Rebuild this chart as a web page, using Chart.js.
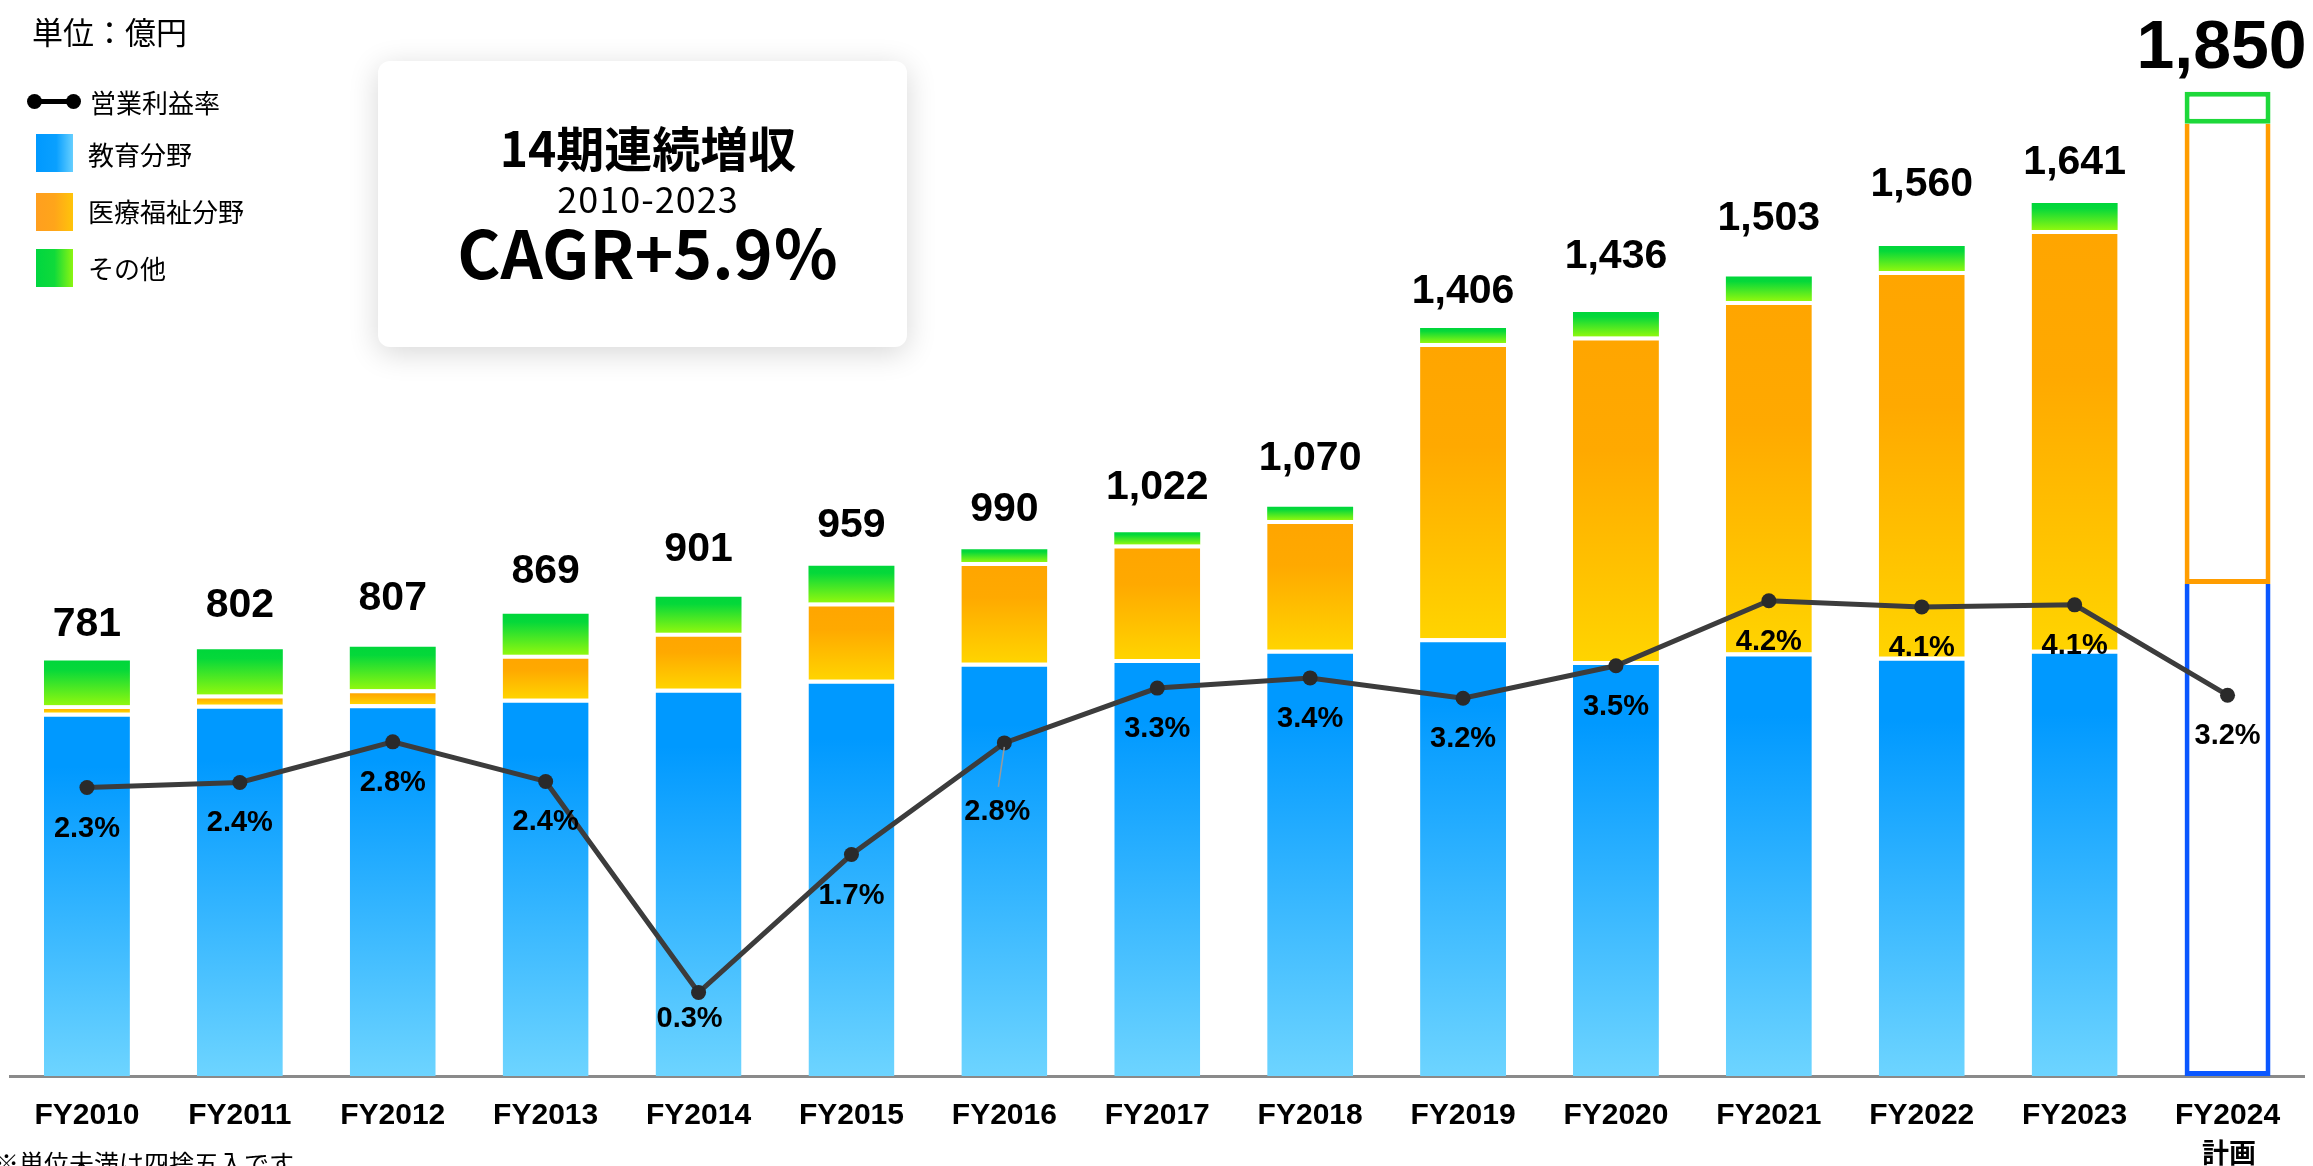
<!DOCTYPE html>
<html lang="ja">
<head>
<meta charset="utf-8">
<title>売上高推移</title>
<script src="https://cdn.jsdelivr.net/npm/chart.js@4.4.1/dist/chart.umd.min.js"></script>
<style>
  html, body { margin: 0; padding: 0; background: #fff; }
  body { width: 2313px; height: 1166px; position: relative; overflow: hidden;
         font-family: "Noto Sans CJK JP", sans-serif; color: #000; }
  #chart { position: absolute; left: 0; top: 0; }
  .txt { position: absolute; white-space: nowrap; }
  .unit { left: 32px; top: 15px; font-size: 31px; line-height: 31px; }
  .lg { left: 88px; font-size: 26px; line-height: 26px; }
  .sw { position: absolute; left: 36px; width: 37px; height: 38px; }
  .sw.edu { top: 134px; background: linear-gradient(to right, #0099ff 0%, #0aa0ff 55%, #66cfff 100%); }
  .sw.med { top: 193px; background: linear-gradient(to right, #ff9f1f 0%, #ffa51a 50%, #ffc40a 100%); }
  .sw.oth { top: 249px; background: linear-gradient(to right, #00d640 0%, #10da3a 50%, #8cf511 100%); }
  .lg-line { position: absolute; left: 34px; top: 99px; width: 39px; height: 5px; background: #000; }
  .lg-dot { position: absolute; top: 94px; width: 15px; height: 15px; border-radius: 50%; background: #000; }
  .box { position: absolute; left: 378px; top: 61px; width: 529px; height: 286px; background: #fff;
         border-radius: 12px; box-shadow: 0 6px 30px rgba(0,0,0,0.16); }
  .boxtxt { left: 384px; width: 528px; text-align: center; }
  .plan { left: 2179px; width: 100px; text-align: center; top: 1138px; font-size: 27px; line-height: 27px; font-weight: 700; }
  .note { left: -6px; top: 1150px; font-size: 25px; line-height: 25px; }
</style>
</head>
<body>
<canvas id="chart" width="2313" height="1166"></canvas>

<div class="txt unit">単位：億円</div>
<div class="lg-line"></div>
<div class="lg-dot" style="left:27px"></div>
<div class="lg-dot" style="left:66px"></div>
<div class="txt lg" style="left:90px; top:89px">営業利益率</div>
<div class="sw edu"></div>
<div class="txt lg" style="top:141px">教育分野</div>
<div class="sw med"></div>
<div class="txt lg" style="top:198px">医療福祉分野</div>
<div class="sw oth"></div>
<div class="txt lg" style="top:255px">その他</div>

<div class="box"></div>
<div class="txt boxtxt" style="top:122px; font-size:48px; line-height:48px; font-weight:700">14期連続増収</div>
<div class="txt boxtxt" style="top:179px; font-size:36px; line-height:36px; letter-spacing:1px">2010-2023</div>
<div class="txt boxtxt" style="top:217px; font-size:66px; line-height:66px; font-weight:700">CAGR+5.9％</div>

<div class="txt plan">計画</div>
<div class="txt note">※単位未満は四捨五入です</div>

<script>
// 年度
const categories = ['FY2010', 'FY2011', 'FY2012', 'FY2013', 'FY2014', 'FY2015', 'FY2016',
                    'FY2017', 'FY2018', 'FY2019', 'FY2020', 'FY2021', 'FY2022', 'FY2023', 'FY2024'];
// 売上高（億円）セグメント別
const education = [683, 698, 699, 709, 728, 745, 777, 784, 801, 823, 780, 796, 788, 801, 925];
const medical   = [14, 19, 28, 83, 105, 145, 189, 215, 244, 555, 610, 661, 725, 789, 865];
const others    = [84, 85, 80, 77, 68, 69, 24, 23, 25, 28, 46, 46, 47, 51, 60];
// 営業利益率（%）
const opMargin  = [2.32, 2.37, 2.77, 2.38, 0.30, 1.66, 2.76, 3.30, 3.40, 3.20, 3.52, 4.16, 4.10, 4.12, 3.23];

const planIndex = 14;

// label placement tweaks (px)
const totalGap = [25, 32, 37, 31, 36, 29, 28, 33, 37, 25, 44, 46, 50, 29, 24];
const pctDrop = { 4: 26, 6: 69 };
const pctShift = { 4: -9, 6: -7 };

const blueStops   = [[0, '#0099ff'], [0.15, '#0099ff'], [1, '#6dd4ff']];
const orangeStops = [[0, '#ffa500'], [0.35, '#ffa900'], [1, '#ffd400']];
const greenStops  = [[0, '#00d63a'], [0.2, '#05d83a'], [1, '#8ff80e']];

const lowerEdu = i => 0;
const upperEdu = i => education[i];
const lowerMed = i => education[i];
const upperMed = i => education[i] + medical[i];
const lowerOth = i => education[i] + medical[i];
const upperOth = i => education[i] + medical[i] + others[i];

function fillFor(stops, lower, upper) {
    return function (ctx) {
        if (ctx.type !== 'data') return stops[0][1];
        const i = ctx.dataIndex;
        if (i === planIndex) return '#ffffff';
        const chart = ctx.chart;
        const y = chart.scales.y;
        if (!chart.chartArea || !y) return stops[0][1];
        const g = chart.ctx.createLinearGradient(0, y.getPixelForValue(upper(i)), 0, y.getPixelForValue(lower(i)));
        stops.forEach(s => g.addColorStop(s[0], s[1]));
        return g;
    };
}

function barSet(label, data, stops, lower, upper, planColor, gapTop, planSkip) {
    return {
        type: 'bar',
        label: label,
        data: data,
        yAxisID: 'y',
        order: 1,
        backgroundColor: fillFor(stops, lower, upper),
        borderColor: ctx => ctx.dataIndex === planIndex ? planColor : '#ffffff',
        borderWidth: ctx => ctx.dataIndex === planIndex ? 5 : (gapTop ? { top: 4, left: 0, right: 0, bottom: 0 } : 0),
        borderSkipped: ctx => ctx.dataIndex === planIndex ? planSkip : 'start',
        inflateAmount: 0,
        barPercentage: 0.562,
        categoryPercentage: 1
    };
}

const labelPlugin = {
    id: 'valueLabels',
    afterDatasetsDraw(chart) {
        const ctx = chart.ctx;
        const x = chart.scales.x;
        const y = chart.scales.y;
        ctx.save();
        ctx.fillStyle = '#000';
        ctx.textAlign = 'center';
        ctx.textBaseline = 'alphabetic';
        categories.forEach((c, i) => {
            const total = education[i] + medical[i] + others[i];
            const px = x.getPixelForValue(i);
            const py = y.getPixelForValue(total);
            ctx.font = i === planIndex ? 'bold 68px "Liberation Sans", Arial, sans-serif'
                                       : 'bold 41px "Liberation Sans", Arial, sans-serif';
            ctx.fillText(total.toLocaleString('en-US'), px + (i === planIndex ? -6 : 0), py - totalGap[i]);
        });

        const meta = chart.getDatasetMeta(0);
        ctx.font = 'bold 29px "Liberation Sans", Arial, sans-serif';
        ctx.textBaseline = 'middle';
        meta.data.forEach((pt, i) => {
            const drop = pctDrop[i] || 41;
            const dx = pctShift[i] || 0;
            if (i === 6) {
                ctx.strokeStyle = '#9a9a9a';
                ctx.lineWidth = 1.5;
                ctx.beginPath();
                ctx.moveTo(pt.x, pt.y + 4);
                ctx.lineTo(pt.x - 6, pt.y + 44);
                ctx.stroke();
            }
            ctx.fillText(opMargin[i].toFixed(1) + '%', pt.x + dx, pt.y + drop);
        });
        ctx.restore();
    }
};

new Chart(document.getElementById('chart'), {
    data: {
        labels: categories,
        datasets: [
            {
                type: 'line',
                label: '営業利益率',
                data: opMargin,
                yAxisID: 'y2',
                order: 0,
                borderColor: '#3c3c3c',
                borderWidth: 5,
                tension: 0,
                pointRadius: 7.5,
                pointBackgroundColor: '#2a2a2a',
                pointBorderWidth: 0
            },
            barSet('教育分野', education, blueStops, lowerEdu, upperEdu, '#0a57ff', true, 'end'),
            barSet('医療福祉分野', medical, orangeStops, lowerMed, upperMed, '#ff9d00', true, 'end'),
            barSet('その他', others, greenStops, lowerOth, upperOth, '#1ed83a', false, false)
        ]
    },
    options: {
        responsive: false,
        animation: false,
        layout: { padding: { top: 12, left: 10.5, right: 9, bottom: 0 } },
        plugins: {
            legend: { display: false },
            tooltip: { enabled: false }
        },
        scales: {
            x: {
                stacked: true,
                grid: { display: false, drawTicks: false },
                border: { display: true, color: '#8a8a8a', width: 3 },
                ticks: {
                    color: '#000',
                    padding: 22,
                    font: { family: '"Liberation Sans", Arial, sans-serif', size: 30, weight: 'bold', lineHeight: 1.2 }
                },
                afterFit: scale => { scale.height = 90; }
            },
            y: { stacked: true, display: false, min: 0, max: 2000 },
            y2: { stacked: false, display: false, min: -0.522, max: 9.961 }
        }
    },
    plugins: [labelPlugin]
});
</script>
</body>
</html>
